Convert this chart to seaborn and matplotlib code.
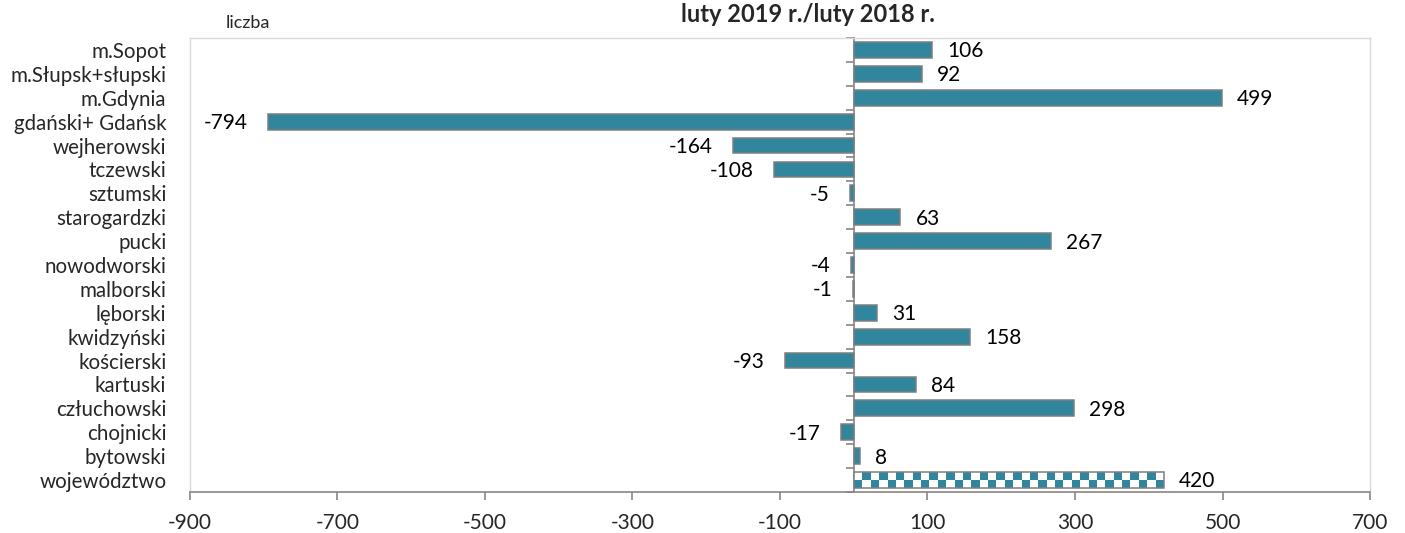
import numpy as np
import matplotlib
matplotlib.use("Agg")
import matplotlib.pyplot as plt
from matplotlib.colors import ListedColormap
import seaborn as sns

# Colours
TEAL = "#31859C"
EDGE = "#7F7F7F"
AXIS_GRAY = "#868686"
FRAME_GRAY = "#D9D9D9"

# ----------------------------------------------------------------------
# DATA
# ----------------------------------------------------------------------
regions = [
    "m.Sopot", "m.Słupsk+słupski", "m.Gdynia", "gdański+ Gdańsk", "wejherowski",
    "tczewski", "sztumski", "starogardzki", "pucki", "nowodworski", "malborski",
    "lęborski", "kwidzyński", "kościerski", "kartuski", "człuchowski",
    "chojnicki", "bytowski", "województwo",
]
change = [106, 92, 499, -794, -164, -108, -5, 63, 267, -4, -1, 31, 158, -93, 84, 298, -17, 8, 420]
x_ticks = [-900, -700, -500, -300, -100, 100, 300, 500, 700]

sns.set_style("white")
plt.rcParams["font.family"] = ["Lato", "DejaVu Sans"]
plt.rcParams["axes.unicode_minus"] = False

fig = plt.figure(figsize=(14.05, 5.33), dpi=100)
ax = fig.add_axes([0.1352, 0.0769, 0.8399, 0.8518])

sns.barplot(x=change, y=regions, orient="h", color=TEAL, saturation=1,
            edgecolor=EDGE, linewidth=1.1, width=0.66, ax=ax)

# checkered fill for the voivodeship total
total_bar = ax.patches[-1]
total_bar.set_facecolor("none")
bb = total_bar.get_bbox()
rows, cols = 2, 37
checker = (np.indices((rows, cols)).sum(axis=0) % 2).astype(float)
im = ax.imshow(checker, cmap=ListedColormap(["white", TEAL]), aspect="auto",
               interpolation="nearest", extent=(bb.x0, bb.x1, bb.y1, bb.y0),
               zorder=total_bar.get_zorder() - 0.1)
im.set_clip_path(total_bar)

# value labels
for bar, val in zip(ax.patches, change):
    y = bar.get_y() + bar.get_height() / 2
    left = bar.get_x() + min(0, bar.get_width())
    right = bar.get_x() + max(0, bar.get_width())
    if val >= 0:
        ax.annotate(f"{val}", xy=(right, y), xytext=(11, -1), textcoords="offset points",
                    ha="left", va="center", fontsize=15, color="black")
    else:
        ax.annotate(f"{val}", xy=(left, y), xytext=(-14.5, -1), textcoords="offset points",
                    ha="right", va="center", fontsize=15, color="black")

ax.set_xlim(-900, 700)
ax.set_ylim(len(regions) - 0.5, -0.5)
ax.set_xticks(x_ticks)
ax.set_xlabel("")
ax.set_ylabel("")

# frame and axes
for side in ["top", "right", "left"]:
    ax.spines[side].set_color(FRAME_GRAY)
    ax.spines[side].set_linewidth(1.0)
ax.spines["bottom"].set_color(AXIS_GRAY)
ax.spines["bottom"].set_linewidth(1.2)
ax.tick_params(axis="x", direction="out", length=5.5, width=1.2, color=AXIS_GRAY,
               labelsize=15, pad=9.5, bottom=True)
ax.tick_params(axis="y", length=0, labelsize=14.8, pad=17)

# vertical zero axis with ticks between categories
zero_axis = ax.secondary_yaxis(0, transform=ax.transData)
zero_axis.set_yticks(np.arange(len(regions) + 1) - 0.5, labels=[])
zero_axis.spines["left"].set_color(AXIS_GRAY)
zero_axis.spines["left"].set_linewidth(1.2)
zero_axis.tick_params(axis="y", direction="out", length=5.5, width=1.2, color=AXIS_GRAY)

fig.text(0.1765, 0.957, "liczba", fontsize=13, ha="center", va="center")
fig.text(0.575, 0.972, "luty 2019 r./luty 2018 r.", fontsize=17, fontweight="bold",
         ha="center", va="center")

fig.savefig("out.png", dpi=100)
print("saved out.png")
